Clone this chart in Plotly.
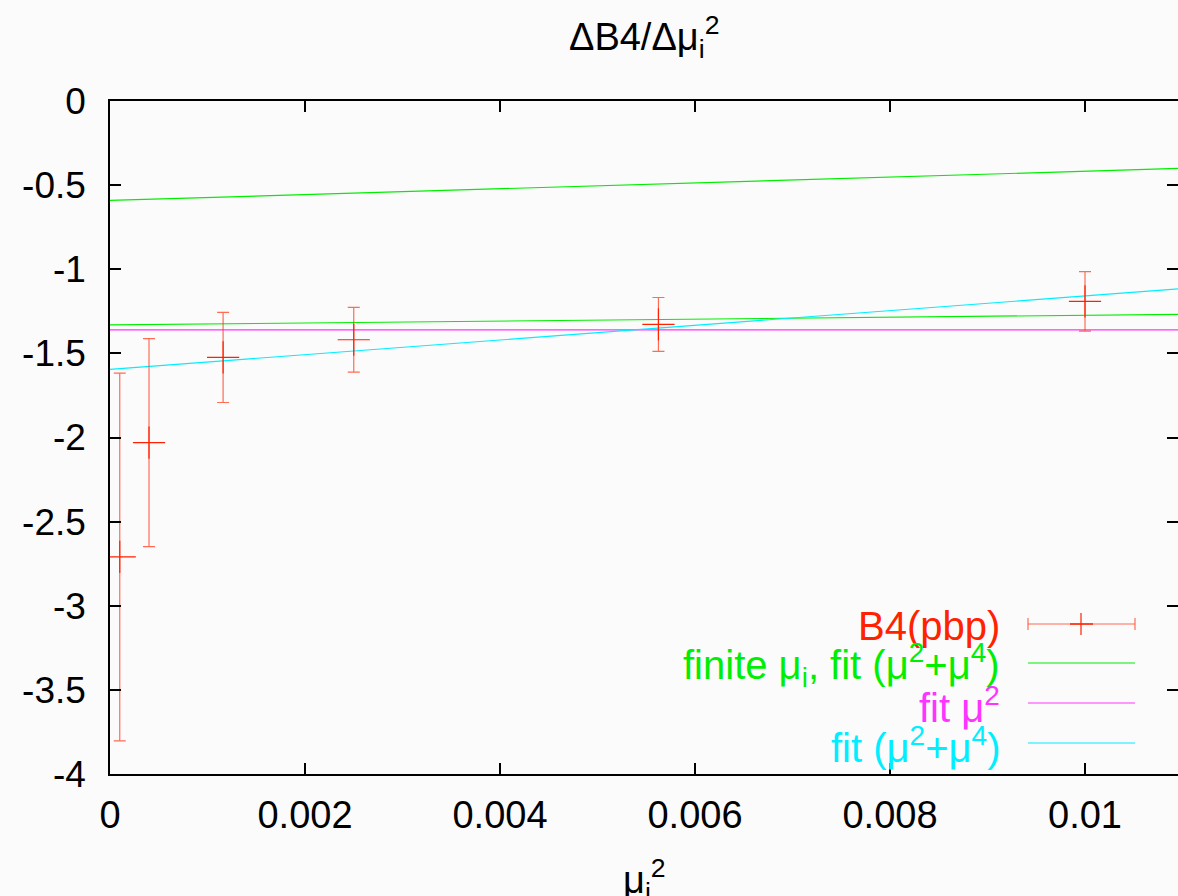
import plotly.graph_objects as go

# ---- data ----
mu2 = [0.0001, 0.0004, 0.00116, 0.0025, 0.005625, 0.01]
b4 = [-2.71, -2.03, -1.524, -1.419, -1.328, -1.191]
b4_err = [1.093, 0.618, 0.268, 0.192, 0.16, 0.177]

fit_x = [0.0, 0.011]
finite_fit_a = [-0.591, -0.400]
finite_fit_b = [-1.331, -1.268]
fit_mu2 = [-1.360, -1.360]
fit_mu24 = [-1.595, -1.115]

x_ticks = [0, 0.002, 0.004, 0.006, 0.008, 0.01]
x_ticktext = ["0", "0.002", "0.004", "0.006", "0.008", "0.01"]
y_ticks = [0, -0.5, -1, -1.5, -2, -2.5, -3, -3.5, -4]
y_ticktext = ["0", "-0.5", "-1", "-1.5", "-2", "-2.5", "-3", "-3.5", "-4"]

legend_labels = [
    "B4(pbp)",
    "finite μ<sub>i</sub>, fit (μ<sup>2</sup>+μ<sup>4</sup>)",
    "fit μ<sup>2</sup>",
    "fit (μ<sup>2</sup>+μ<sup>4</sup>)",
]

RED = "#ff2200"
GREEN = "#00ee00"
MAGENTA = "#ff33ff"
CYAN = "#00eeff"
legend_colors = [RED, GREEN, MAGENTA, CYAN]

W, H = 1178, 896
L, R, T, B = 110, 0, 101, 122
PW, PH = W - L - R, H - T - B
FONT = "Liberation Sans, Arial, Helvetica, sans-serif"


def xp(px):
    return (px - L) / PW


def yp(py):
    return (H - B - py) / PH


fig = go.Figure()

for ys, col in [(finite_fit_a, GREEN), (finite_fit_b, GREEN), (fit_mu2, MAGENTA), (fit_mu24, CYAN)]:
    fig.add_trace(go.Scatter(x=fit_x, y=ys, mode="lines",
                             line=dict(color=col, width=1.2), hoverinfo="skip",
                             showlegend=False))

fig.add_trace(go.Scatter(
    x=mu2, y=b4, mode="markers",
    marker=dict(symbol="cross-thin", size=23, line=dict(color=RED, width=1.2)),
    error_y=dict(type="data", array=b4_err, visible=True, color="rgba(255,60,30,0.75)",
                 thickness=1.2, width=6),
    showlegend=False,
))

# invisible trace to anchor right-side mirror ticks
fig.add_trace(go.Scatter(x=[None], y=[None], yaxis="y2", showlegend=False, hoverinfo="skip"))

# ---- manual gnuplot-style key ----
rows = [624, 663, 703, 743]
x_text = 1002
x0, x1 = 1028, 1135
shapes = []
annotations = []
for lab, col, ry in zip(legend_labels, legend_colors, rows):
    annotations.append(dict(text=lab, x=xp(x_text), y=yp(ry + 2), xref="paper", yref="paper",
                            xanchor="right", yanchor="middle", showarrow=False,
                            font=dict(family=FONT, size=40, color=col)))
    if col != RED:
        shapes.append(dict(type="line", xref="paper", yref="paper",
                           x0=xp(x0), x1=xp(x1), y0=yp(ry), y1=yp(ry),
                           line=dict(color=col, width=1.2)))
ry = rows[0]
ebc = "rgba(255,60,30,0.75)"
shapes += [
    dict(type="line", xref="paper", yref="paper", x0=xp(x0), x1=xp(x1), y0=yp(ry), y1=yp(ry),
         line=dict(color=ebc, width=1.2)),
    dict(type="line", xref="paper", yref="paper", x0=xp(x0), x1=xp(x0), y0=yp(ry - 6), y1=yp(ry + 6),
         line=dict(color=ebc, width=1.2)),
    dict(type="line", xref="paper", yref="paper", x0=xp(x1), x1=xp(x1), y0=yp(ry - 6), y1=yp(ry + 6),
         line=dict(color=ebc, width=1.2)),
    dict(type="line", xref="paper", yref="paper", x0=xp(1070), x1=xp(1093), y0=yp(ry), y1=yp(ry),
         line=dict(color=RED, width=1.5)),
    dict(type="line", xref="paper", yref="paper", x0=xp(1081), x1=xp(1081), y0=yp(ry - 11), y1=yp(ry + 11),
         line=dict(color=RED, width=1.2)),
]

# title and x-axis title
annotations.append(dict(text="ΔB4/Δμ<sub>i</sub><sup>2</sup>", x=0.5, y=yp(37), xref="paper", yref="paper",
                        xanchor="center", yanchor="middle", showarrow=False,
                        font=dict(family=FONT, size=38, color="black")))
annotations.append(dict(text="μ<sub>i</sub><sup>2</sup>", x=0.5, y=yp(851), xref="paper", yref="paper",
                        xanchor="center", yanchor="top", showarrow=False,
                        font=dict(family=FONT, size=38, color="black")))

x_max = 0.002 * PW / 195.0

fig.update_layout(
    width=W, height=H,
    margin=dict(l=L, r=R, t=T, b=B, pad=0),
    paper_bgcolor="#fbfbfb", plot_bgcolor="#fbfbfb",
    font=dict(family=FONT, size=38, color="black"),
    showlegend=False,
    shapes=shapes,
    annotations=annotations,
    xaxis=dict(range=[0, x_max], tickvals=x_ticks, ticktext=x_ticktext,
               ticks="inside", ticklen=11, tickwidth=1.5, tickcolor="black",
               showline=True, linecolor="black", linewidth=1.5, mirror="ticks",
               showgrid=False, zeroline=False, ticklabelstandoff=7,
               tickfont=dict(family=FONT, size=38, color="black")),
    yaxis=dict(range=[-4, 0], tickvals=y_ticks, ticktext=y_ticktext,
               ticks="inside", ticklen=11, tickwidth=1.5, tickcolor="black",
               showline=True, linecolor="black", linewidth=1.5, mirror=False,
               showgrid=False, zeroline=False, ticklabelstandoff=15,
               tickfont=dict(family=FONT, size=37, color="black")),
    yaxis2=dict(range=[-4, 0], tickvals=y_ticks, overlaying="y", side="right",
                ticks="inside", ticklen=11, tickwidth=1.5, tickcolor="black",
                showticklabels=False, showline=False, showgrid=False, zeroline=False),
)

fig.write_html("out.html")
